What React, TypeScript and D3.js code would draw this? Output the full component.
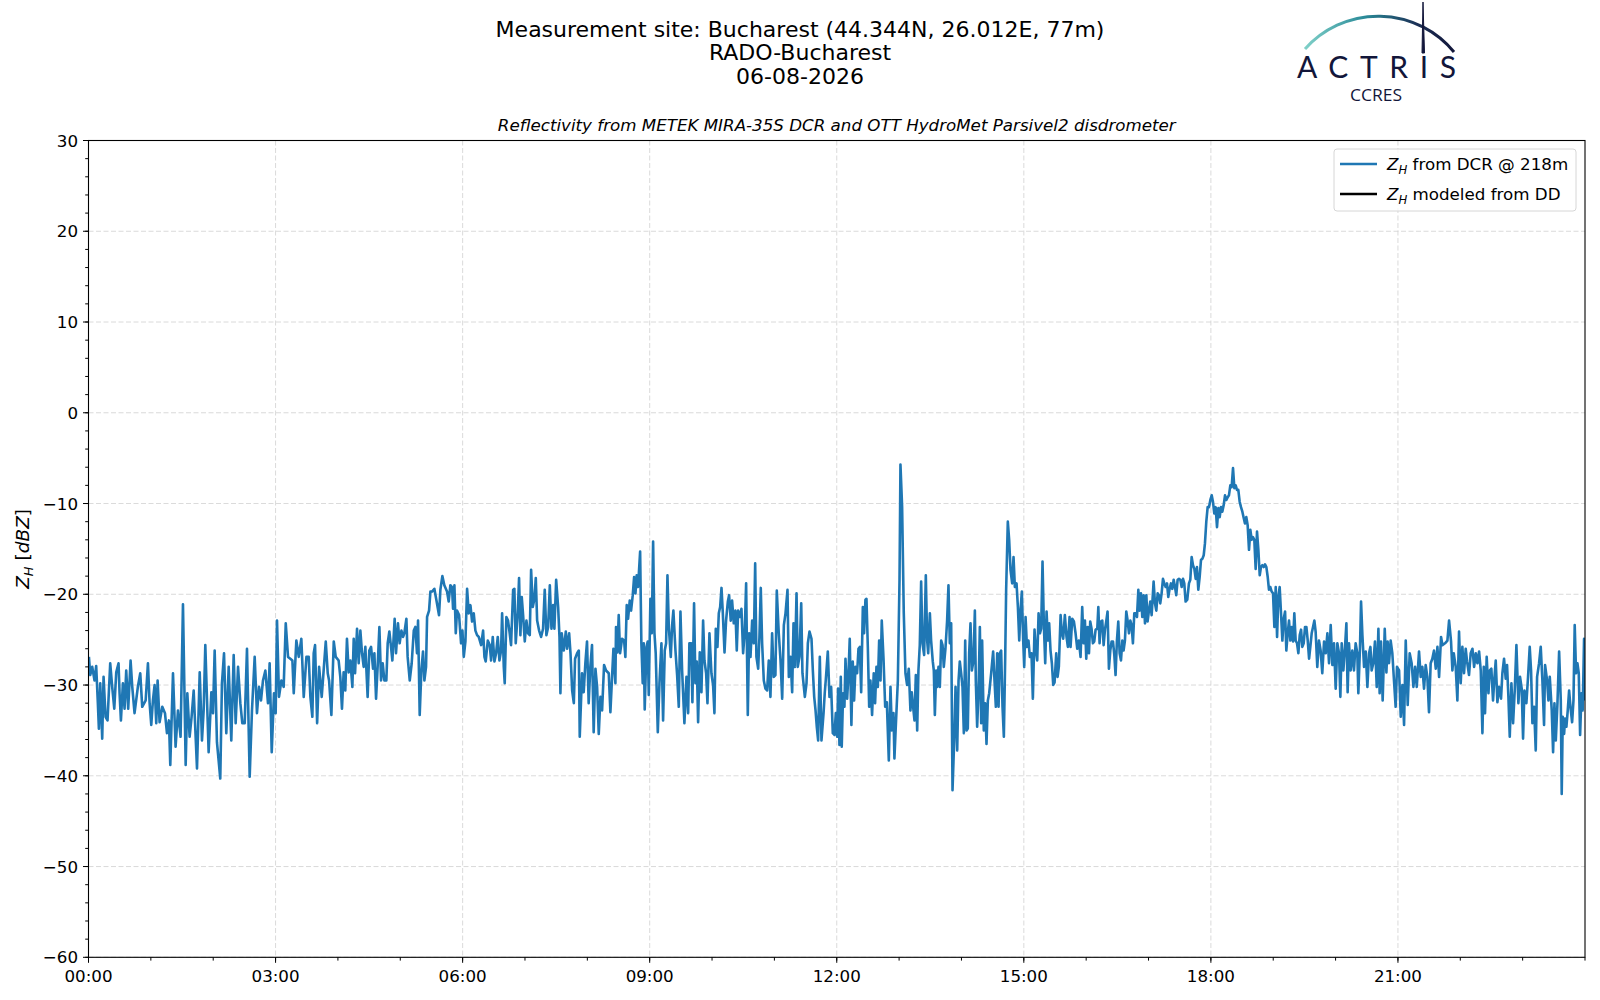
import { useMemo } from "react";
import * as d3 from "d3";

const W = 1600;
const H = 1000;
const M = { left: 88.5, right: 1585, top: 140.5, bottom: 957.3 };

const titleLines = [
  "Measurement site: Bucharest (44.344N, 26.012E, 77m)",
  "RADO-Bucharest",
  "06-08-2026",
];
const subtitle = "Reflectivity from METEK MIRA-35S DCR and OTT HydroMet Parsivel2 disdrometer";
const xTicks = [0, 180, 360, 540, 720, 900, 1080, 1260];
const xTickLabels = ["00:00", "03:00", "06:00", "09:00", "12:00", "15:00", "18:00", "21:00"];
const yTicks = [30, 20, 10, 0, -10, -20, -30, -40, -50, -60];

// Z_H from DCR @ 218m, [minute of day, dBZ]
const dcr0004: [number, number][] = [
  [0.4, -26.9], [1.7, -28.9], [3.6, -28.0], [5.8, -29.5], [7.4, -27.9], [9.0, -32.0], [10.0, -34.8],
  [11.3, -29.8], [13.2, -35.9], [14.5, -29.1], [16.4, -33.5], [18.3, -33.9], [20.9, -27.6], [22.8, -30.2],
  [24.8, -32.6], [26.7, -28.6], [28.9, -27.6], [29.9, -30.9], [31.2, -33.9], [33.1, -29.8], [34.7, -32.6],
  [36.3, -28.4], [38.2, -32.6], [40.5, -27.3], [42.1, -30.2], [44.3, -33.1], [47.5, -30.2], [49.8, -28.7],
  [51.7, -32.4], [55.0, -31.7], [57.2, -27.6], [58.8, -32.0], [60.4, -34.4], [62.0, -31.7], [63.6, -30.0],
  [65.2, -34.2], [66.5, -29.5], [68.4, -34.1], [71.0, -32.4], [73.6, -33.1], [75.5, -35.3], [77.4, -33.9],
  [78.7, -38.8], [81.3, -28.7], [83.8, -36.8], [86.1, -32.8], [88.6, -35.7], [90.9, -21.1], [93.5, -38.8],
  [95.1, -30.9], [97.3, -35.7], [99.2, -33.5], [101.2, -30.6], [104.4, -39.2], [107.0, -28.6], [109.2, -36.1],
  [110.8, -32.8], [112.4, -25.6], [115.6, -37.4], [118.2, -30.8], [119.8, -33.1], [121.4, -26.2], [123.6, -36.3],
  [125.6, -38.8], [126.8, -40.3], [128.4, -29.8], [130.4, -26.5], [132.6, -35.3], [134.9, -28.0], [137.4, -36.1],
  [139.7, -26.7], [141.6, -34.2], [143.9, -28.0], [146.1, -32.0], [148.0, -34.2], [150.3, -34.2], [152.5, -26.0],
  [155.1, -40.1], [157.3, -32.8], [159.9, -26.9], [162.1, -33.1], [164.1, -30.2], [166.0, -31.7], [167.9, -29.5],
  [170.2, -28.4], [172.7, -32.0], [174.3, -27.6], [176.3, -37.4], [178.5, -30.9], [180.1, -33.1], [181.4, -22.9],
  [183.3, -31.3], [185.6, -29.5], [187.8, -30.2], [189.8, -23.2], [192.0, -26.9], [194.2, -27.1], [196.2, -27.3],
  [197.5, -30.9], [200.0, -25.1], [202.3, -26.9], [204.8, -24.9], [207.1, -31.3], [209.7, -26.9], [211.9, -26.9],
  [213.5, -31.3], [215.4, -33.5], [216.7, -26.5], [218.0, -25.6], [220.0, -34.2], [221.9, -28.0], [224.4, -31.3],
  [226.4, -28.2], [228.3, -25.2], [230.2, -28.7], [231.5, -29.5], [233.7, -33.3], [236.0, -25.2], [237.9, -26.9],
];

const dcr0408: [number, number][] = [
  [240.7, -27.3], [242.3, -29.1], [243.9, -32.6], [245.5, -28.6], [247.1, -30.6], [248.7, -24.9], [250.4, -28.6],
  [252.0, -27.3], [253.9, -30.2], [255.2, -24.9], [256.5, -28.7], [258.4, -23.8], [260.0, -27.6], [261.6, -24.0],
  [263.2, -26.5], [264.8, -28.0], [266.4, -25.8], [268.6, -31.3], [270.2, -26.2], [271.9, -25.8], [273.8, -28.2],
  [275.1, -26.5], [276.7, -31.5], [278.3, -27.8], [279.9, -23.6], [281.5, -29.5], [283.1, -27.6], [284.7, -29.5],
  [286.6, -29.5], [287.9, -25.4], [289.5, -24.1], [291.1, -25.8], [292.4, -27.3], [294.6, -22.7], [295.9, -26.5],
  [297.8, -23.2], [299.4, -25.4], [301.1, -24.0], [302.7, -24.7], [303.9, -24.3], [305.9, -22.7], [307.1, -26.9],
  [309.1, -29.5], [311.0, -27.6], [313.0, -24.0], [314.5, -23.6], [316.1, -26.5], [317.1, -22.9], [318.7, -33.3],
  [320.3, -28.4], [321.9, -26.3], [323.2, -29.5], [324.8, -28.0], [325.8, -22.5], [327.7, -21.8], [329.0, -19.7],
  [330.6, -19.7], [332.8, -19.4], [334.7, -20.6], [337.3, -22.3], [338.6, -19.5], [340.5, -18.0], [342.4, -19.0],
  [345.0, -19.7], [346.6, -20.8], [348.2, -19.0], [349.8, -19.2], [350.8, -21.6], [352.1, -19.0], [353.4, -24.3],
  [354.6, -21.8], [356.6, -22.3], [358.5, -25.4], [359.8, -24.0], [361.1, -26.9], [362.7, -25.2], [364.3, -19.4],
  [365.9, -22.1], [367.5, -21.2], [369.1, -23.0], [370.7, -22.1], [372.3, -24.0], [373.9, -24.5], [375.5, -24.7],
  [377.8, -25.6], [379.7, -24.0], [381.0, -26.9], [382.2, -27.4], [384.2, -25.1], [386.1, -25.6], [387.4, -27.3],
  [389.0, -24.7], [390.6, -27.4], [392.2, -26.5], [393.8, -24.7], [395.4, -27.3], [397.0, -26.2], [398.0, -22.1],
  [399.6, -28.0], [400.5, -29.8], [402.1, -22.5], [403.7, -22.9], [405.3, -24.3], [406.6, -25.6], [408.6, -19.5],
  [409.8, -19.4], [411.1, -25.4], [413.1, -21.9], [414.3, -18.2], [415.6, -24.5], [416.9, -20.3], [418.2, -22.3],
  [419.8, -25.2], [421.4, -22.9], [423.0, -24.3], [424.6, -24.5], [425.9, -17.3], [427.5, -21.4], [429.1, -20.5],
  [430.4, -18.2], [431.7, -22.9], [433.6, -24.0], [435.5, -24.7], [437.4, -23.8], [439.0, -19.5], [440.6, -24.5],
  [442.3, -23.6], [443.9, -19.0], [445.5, -23.8], [447.1, -21.2], [448.3, -23.8], [450.0, -18.4], [451.9, -21.4],
  [453.2, -24.7], [454.1, -30.9], [455.4, -24.3], [457.3, -26.2], [459.3, -24.1], [460.5, -26.0], [462.5, -24.3],
  [463.8, -26.5], [465.4, -30.6], [467.0, -32.0], [468.2, -27.1], [470.2, -26.5], [471.8, -26.2], [472.7, -35.7],
];

const dcr0812: [number, number][] = [
  [474.9, -28.7], [476.5, -30.8], [478.1, -27.6], [479.7, -25.2], [481.3, -32.0], [482.9, -28.0], [484.5, -25.6],
  [486.1, -35.2], [487.8, -28.2], [489.4, -30.2], [491.0, -35.4], [492.6, -31.3], [494.2, -32.8], [496.1, -27.8],
  [498.0, -28.4], [500.6, -28.7], [502.2, -33.0], [503.8, -29.1], [505.1, -26.0], [507.0, -29.8], [507.6, -23.6],
  [508.9, -26.4], [510.2, -22.3], [511.5, -26.5], [513.4, -24.9], [515.4, -25.1], [516.6, -26.9], [517.9, -21.2],
  [519.2, -22.7], [520.8, -20.7], [522.1, -21.8], [523.7, -20.1], [525.0, -18.1], [526.3, -19.9], [527.5, -17.9],
  [528.8, -19.2], [530.8, -15.3], [532.0, -25.4], [533.3, -29.8], [534.3, -25.4], [535.2, -32.7], [536.9, -25.8],
  [538.1, -25.2], [539.1, -31.1], [540.7, -20.5], [542.0, -24.3], [543.3, -14.2], [544.6, -24.3], [545.8, -26.5],
  [547.8, -35.2], [549.4, -29.8], [551.3, -25.4], [552.9, -33.9], [554.5, -26.2], [555.8, -25.4], [557.1, -17.9],
  [558.4, -23.6], [560.3, -26.9], [561.6, -23.4], [562.8, -21.8], [564.8, -26.2], [566.4, -28.9], [568.0, -32.4],
  [569.6, -21.9], [571.2, -28.4], [573.4, -34.2], [575.4, -29.1], [577.0, -33.1], [578.2, -25.4], [579.9, -25.4],
  [581.1, -31.9], [582.7, -21.0], [584.0, -29.8], [585.3, -27.4], [586.6, -34.1], [588.2, -26.4], [589.8, -30.8],
  [591.4, -22.9], [592.7, -27.3], [594.3, -28.7], [595.6, -32.0], [597.5, -24.3], [599.4, -28.7], [601.0, -30.0],
  [602.3, -33.1], [603.6, -23.8], [605.2, -25.8], [606.5, -22.1], [607.8, -21.4], [609.1, -19.3], [610.3, -21.9],
  [612.0, -26.4], [613.5, -22.9], [615.2, -20.8], [616.4, -20.1], [618.0, -22.9], [619.3, -20.7], [620.9, -23.2],
  [622.5, -21.8], [623.8, -26.2], [625.1, -21.8], [626.7, -22.5], [628.3, -21.6], [629.9, -26.5], [631.5, -24.0],
  [632.8, -18.8], [634.4, -33.3], [635.7, -24.3], [637.0, -26.9], [638.6, -22.9], [640.2, -25.4], [641.5, -16.6],
  [642.7, -26.9], [644.4, -28.2], [645.6, -24.7], [646.9, -19.3], [648.2, -25.4], [649.8, -29.5], [651.4, -30.4],
  [653.0, -30.6], [654.6, -27.3], [656.2, -31.3], [657.8, -24.3], [659.4, -29.1], [661.0, -28.9], [662.3, -19.6],
  [664.2, -24.3], [665.9, -27.3], [667.5, -31.5], [669.1, -23.4], [670.7, -22.1], [672.6, -19.5], [673.9, -29.1],
  [675.5, -26.9], [677.1, -30.8], [678.4, -23.2], [679.7, -28.0], [681.3, -19.9], [682.5, -28.0], [684.1, -26.9],
  [685.8, -21.0], [687.0, -28.7], [689.3, -31.3], [690.9, -29.8], [692.2, -25.4], [693.8, -24.1], [695.7, -24.9],
  [697.0, -28.4], [698.3, -31.3], [699.6, -32.8], [700.8, -34.6], [702.1, -36.1], [703.7, -26.9], [705.3, -36.1],
  [707.3, -33.1], [708.5, -30.8],
];

const dcr1216: [number, number][] = [
  [709.4, -29.5], [711.4, -26.3], [713.0, -31.3], [714.6, -30.2], [716.2, -35.3], [717.8, -35.5], [719.1, -33.1],
  [720.4, -35.7], [721.3, -30.4], [722.6, -36.6], [723.9, -29.1], [724.8, -36.8], [726.1, -30.9], [727.4, -32.4],
  [728.4, -27.1], [730.0, -31.5], [731.3, -28.7], [732.5, -24.9], [734.1, -34.4], [735.4, -27.4], [736.7, -31.7],
  [738.0, -28.0], [739.6, -28.7], [740.9, -26.0], [742.2, -25.8], [743.5, -30.8], [745.1, -21.4], [746.3, -24.3],
  [747.6, -20.6], [748.6, -20.5], [749.9, -25.8], [751.2, -32.4], [752.4, -29.5], [754.0, -33.3], [755.6, -28.7],
  [756.9, -32.0], [758.2, -28.0], [759.5, -30.2], [760.8, -25.1], [762.1, -29.5], [763.3, -22.9], [765.0, -27.1],
  [766.6, -32.4], [768.2, -31.9], [770.1, -38.3], [771.7, -30.2], [773.0, -35.0], [774.6, -33.1], [775.5, -38.1],
  [776.8, -34.6], [778.8, -29.5], [780.4, -18.4], [781.3, -5.7], [782.9, -10.4], [784.5, -22.1], [786.1, -28.7],
  [787.7, -30.0], [789.3, -28.2], [790.9, -32.8], [792.2, -30.8], [793.5, -32.4], [794.8, -33.9], [796.1, -28.9],
  [797.4, -35.0], [798.6, -28.4], [799.9, -25.6], [801.2, -18.6], [802.5, -25.4], [804.1, -26.7], [805.7, -17.9],
  [807.0, -25.1], [808.0, -26.5], [809.6, -22.1], [810.8, -25.1], [812.4, -27.4], [813.4, -28.4], [814.4, -33.3],
  [815.7, -28.4], [816.6, -30.2], [817.9, -28.0], [819.2, -30.2], [820.5, -25.1], [821.8, -25.6], [823.0, -28.0],
  [824.6, -26.0], [826.2, -22.9], [827.5, -19.0], [828.8, -25.4], [830.1, -23.2], [831.4, -41.6], [833.0, -36.1],
  [834.3, -30.2], [835.9, -37.2], [837.2, -29.5], [838.4, -27.4], [839.7, -28.7], [841.0, -30.2], [842.3, -35.3],
  [843.6, -25.1], [844.9, -35.0], [846.1, -34.8], [847.4, -26.5], [848.7, -23.2], [850.0, -28.4], [851.6, -27.3],
  [852.9, -21.8], [853.8, -29.5], [855.1, -34.6], [856.4, -30.8], [857.7, -23.6], [859.0, -34.2], [859.9, -25.1],
  [861.5, -35.0], [862.8, -32.0], [864.1, -36.5], [865.4, -31.7], [866.7, -30.9], [868.6, -28.7], [870.5, -26.3],
  [871.8, -29.5], [873.1, -32.4], [874.4, -26.5], [875.7, -32.4], [876.9, -26.5], [878.2, -26.2], [879.5, -32.4],
  [880.8, -35.7], [882.1, -26.9], [883.0, -19.5], [884.6, -12.0], [885.9, -14.0], [887.2, -17.3], [888.8, -18.8],
  [890.1, -15.9], [891.4, -19.2], [893.0, -18.8], [894.3, -21.4], [895.6, -25.1], [896.8, -21.8], [898.1, -19.7],
  [899.4, -25.1], [900.4, -28.0], [901.7, -22.5], [903.0, -25.8], [904.5, -25.1], [905.8, -26.9], [907.4, -26.5],
  [908.7, -31.5], [910.3, -23.9], [911.6, -26.2], [912.9, -27.3], [914.2, -22.1], [915.5, -24.3], [916.7, -23.8],
  [918.0, -16.4], [919.3, -23.4], [920.6, -27.6], [921.9, -21.9], [923.2, -25.1], [924.4, -23.2], [925.7, -26.2],
  [927.0, -27.6], [928.3, -30.0], [929.6, -29.7], [931.2, -26.5], [932.5, -29.1], [933.7, -28.0], [935.4, -22.3],
  [936.6, -24.3], [937.9, -24.9], [939.5, -22.3], [941.1, -24.7], [942.4, -25.8], [944.0, -22.5],
];

const dcr1620: [number, number][] = [
  [945.0, -25.8], [946.6, -22.7], [948.2, -23.0], [949.8, -24.3], [951.4, -26.0], [953.0, -25.1], [954.6, -26.9],
  [956.2, -21.4], [957.5, -25.4], [958.8, -22.9], [960.1, -27.1], [961.4, -23.6], [962.7, -26.5], [963.9, -23.0],
  [965.2, -23.8], [966.5, -25.4], [967.8, -25.2], [969.1, -23.9], [970.7, -23.8], [971.7, -21.4], [972.9, -25.4],
  [974.2, -23.0], [975.5, -22.9], [976.8, -25.6], [978.1, -23.9], [979.4, -22.9], [980.6, -21.9], [981.9, -28.2],
  [983.2, -26.2], [984.5, -25.2], [985.8, -25.2], [987.1, -26.7], [988.3, -28.9], [989.6, -25.1], [990.9, -23.0],
  [992.2, -26.5], [993.5, -27.3], [994.8, -25.1], [996.0, -26.2], [997.3, -25.1], [998.6, -21.9], [999.9, -22.9],
  [1001.2, -24.3], [1002.5, -22.9], [1003.7, -23.4], [1005.0, -25.4], [1006.3, -22.1], [1007.6, -22.1], [1008.9, -22.5],
  [1010.2, -19.5], [1011.4, -21.8], [1012.7, -19.9], [1014.0, -22.5], [1015.3, -20.1], [1016.6, -23.2], [1017.9, -20.1],
  [1019.1, -23.0], [1020.4, -21.8], [1021.7, -20.8], [1023.0, -22.3], [1024.9, -18.6], [1026.2, -21.0], [1027.5, -21.8],
  [1028.8, -19.9], [1030.1, -20.1], [1031.3, -21.0], [1032.6, -19.9], [1033.9, -18.3], [1035.2, -18.8], [1036.5, -19.2],
  [1037.8, -18.8], [1039.0, -20.3], [1040.3, -19.4], [1041.6, -18.8], [1042.9, -19.4], [1044.2, -18.4], [1045.5, -19.2],
  [1046.7, -20.1], [1048.0, -18.4], [1049.3, -18.3], [1050.6, -18.4], [1051.9, -19.2], [1053.2, -18.3], [1054.4, -18.8],
  [1055.7, -20.8], [1057.3, -20.6], [1058.9, -18.8], [1060.2, -18.4], [1061.5, -15.9], [1062.8, -16.8], [1064.1, -17.2],
  [1065.4, -18.3], [1066.6, -17.0], [1067.9, -19.5], [1069.2, -18.1], [1070.5, -16.2], [1071.8, -16.1], [1073.1, -15.7],
  [1074.3, -14.4], [1075.6, -12.0], [1076.9, -10.4], [1078.2, -10.4], [1079.5, -9.6], [1080.8, -9.1], [1082.0, -9.8],
  [1083.3, -11.1], [1084.6, -10.4], [1085.9, -12.6], [1087.2, -10.5], [1088.5, -11.5], [1089.7, -10.4], [1091.0, -10.9],
  [1092.3, -10.2], [1093.6, -9.1], [1094.9, -9.6], [1096.2, -9.3], [1097.4, -9.1], [1098.7, -8.0], [1100.0, -8.2],
  [1101.3, -6.1], [1102.6, -8.3], [1103.9, -8.0], [1105.1, -8.5], [1106.4, -8.5], [1107.7, -9.8], [1109.0, -10.4],
  [1110.3, -10.9], [1111.6, -11.6], [1112.8, -12.2], [1114.1, -11.5], [1115.4, -12.4], [1116.7, -15.1], [1118.0, -12.9],
  [1119.3, -14.0], [1120.5, -13.7], [1121.8, -14.0], [1123.1, -17.2], [1124.4, -13.1], [1125.7, -15.1], [1127.0, -17.9],
  [1128.2, -17.0], [1129.5, -16.8], [1130.8, -17.0], [1132.1, -16.7], [1133.4, -17.0], [1134.7, -18.1], [1135.9, -19.5],
  [1137.2, -19.2], [1138.5, -19.7], [1139.8, -19.9], [1141.1, -23.6], [1142.4, -19.2], [1143.7, -24.7], [1144.9, -20.3],
  [1146.2, -19.2], [1147.5, -22.1], [1148.8, -25.1], [1150.1, -22.7], [1151.4, -21.9], [1152.6, -26.2], [1153.9, -24.3],
  [1155.2, -22.9], [1156.5, -25.1], [1157.8, -23.6], [1159.1, -25.2], [1160.3, -22.1], [1161.6, -25.1], [1162.9, -25.4],
  [1164.2, -26.5], [1165.5, -24.5], [1166.8, -23.9], [1168.0, -25.8], [1169.3, -25.4], [1170.6, -23.6], [1171.9, -23.6],
  [1173.2, -25.1], [1174.5, -27.1], [1175.7, -25.8], [1177.0, -24.3], [1178.3, -23.6], [1179.6, -22.9],
];

const dcr2024: [number, number][] = [
  [1180.8, -24.1], [1182.4, -28.0], [1184.0, -25.1], [1185.6, -26.2], [1187.2, -28.7], [1188.9, -25.2], [1190.5, -26.5],
  [1192.1, -24.3], [1193.7, -27.6], [1195.3, -23.4], [1196.9, -27.8], [1198.5, -25.4], [1200.1, -30.4], [1201.7, -25.4],
  [1203.3, -26.5], [1204.6, -31.3], [1205.9, -25.4], [1207.5, -28.4], [1209.1, -25.8], [1210.4, -23.2], [1211.6, -30.8],
  [1212.9, -25.4], [1214.5, -28.4], [1216.1, -26.2], [1217.7, -28.4], [1219.3, -25.4], [1220.9, -26.5], [1221.9, -30.9],
  [1223.5, -25.8], [1224.5, -20.8], [1225.8, -24.5], [1227.4, -28.0], [1229.0, -26.3], [1230.6, -30.2], [1232.2, -26.5],
  [1233.5, -25.8], [1234.7, -28.4], [1236.3, -27.6], [1237.9, -25.2], [1239.6, -30.2], [1241.2, -23.8], [1242.4, -30.9],
  [1243.7, -25.2], [1245.3, -31.7], [1247.3, -23.8], [1248.9, -28.6], [1250.1, -25.2], [1251.4, -27.6], [1253.0, -25.1],
  [1254.6, -26.5], [1256.2, -29.5], [1257.8, -32.4], [1259.1, -28.0], [1261.1, -28.4], [1262.7, -33.5], [1264.3, -30.0],
  [1265.9, -34.4], [1267.5, -25.1], [1269.4, -32.2], [1271.3, -26.5], [1273.2, -27.6], [1274.9, -30.2], [1276.5, -28.0],
  [1278.1, -30.2], [1280.3, -26.3], [1281.9, -29.1], [1283.5, -28.0], [1285.1, -30.4], [1286.7, -27.8], [1288.3, -29.1],
  [1289.9, -33.0], [1291.5, -27.6], [1293.1, -27.1], [1294.7, -26.2], [1296.4, -28.2], [1298.0, -25.8], [1299.6, -29.1],
  [1301.5, -24.7], [1302.8, -25.6], [1305.3, -25.4], [1307.6, -25.1], [1309.2, -22.9], [1311.1, -25.2], [1312.4, -28.4],
  [1313.7, -26.5], [1315.6, -28.0], [1317.2, -31.7], [1318.8, -24.1], [1320.4, -29.8], [1322.0, -25.8], [1323.6, -28.7],
  [1325.2, -26.0], [1326.5, -27.4], [1328.4, -28.9], [1330.0, -26.5], [1331.7, -26.0], [1333.3, -28.0], [1334.9, -26.5],
  [1336.5, -27.6], [1338.1, -26.3], [1339.7, -28.4], [1341.3, -35.3], [1342.6, -28.0], [1343.8, -33.1], [1345.4, -26.9],
  [1347.1, -30.9], [1348.3, -28.4], [1349.9, -28.2], [1351.5, -31.7], [1352.8, -29.3], [1354.1, -27.3], [1355.7, -31.9],
  [1357.3, -30.2], [1359.2, -31.5], [1360.5, -28.7], [1362.1, -27.1], [1363.7, -29.3], [1365.0, -27.8], [1366.3, -31.3],
  [1367.6, -35.7], [1369.2, -29.8], [1370.8, -34.2], [1372.4, -30.6], [1374.0, -25.6], [1375.9, -32.0], [1377.5, -29.1],
  [1379.1, -30.4], [1380.4, -35.9], [1381.7, -30.6], [1383.6, -32.0], [1385.2, -29.1], [1386.8, -25.8], [1388.1, -28.4],
  [1389.4, -34.2], [1391.0, -32.4], [1392.6, -37.2], [1393.9, -29.1], [1395.8, -27.6], [1397.4, -25.8], [1399.0, -29.5],
  [1400.6, -34.4], [1401.6, -27.8], [1403.5, -29.5], [1404.8, -31.7], [1406.1, -29.1], [1408.0, -32.8], [1409.3, -37.4],
  [1410.6, -32.0], [1411.9, -36.1], [1413.5, -32.0], [1415.1, -26.3], [1416.7, -31.7], [1417.6, -42.0], [1418.6, -33.5],
  [1419.9, -35.4], [1420.8, -33.7], [1422.1, -34.6], [1423.4, -32.8], [1424.7, -30.6], [1426.0, -32.4], [1427.6, -34.1],
  [1428.9, -31.7], [1430.1, -23.4], [1431.4, -28.7], [1432.7, -27.6], [1434.0, -28.7], [1435.3, -35.5], [1436.6, -30.9],
  [1437.8, -32.8], [1439.1, -24.9], [1440.1, -31.7],
];

const dcrSeries = [...dcr0004, ...dcr0408, ...dcr0812, ...dcr1216, ...dcr1620, ...dcr2024];

const FONT = "'DejaVu Sans', sans-serif";
const BLUE = "#1f77b4";
const NAVY = "#12163a";

function ZH({ size }: { size: number }) {
  return (
    <>
      <tspan fontStyle="italic">Z</tspan>
      <tspan fontStyle="italic" fontSize={size * 0.7} dy={size * 0.22}>H</tspan>
      <tspan dy={-size * 0.22}> </tspan>
    </>
  );
}

export default function App() {
  const x = useMemo(() => d3.scaleLinear().domain([0, 1440]).range([M.left, M.right]), []);
  const y = useMemo(() => d3.scaleLinear().domain([-60, 30]).range([M.bottom, M.top]), []);
  const linePath = useMemo(
    () =>
      d3
        .line<[number, number]>()
        .x((d) => x(d[0]))
        .y((d) => y(d[1]))(dcrSeries) ?? "",
    [x, y]
  );
  const xMinor = d3.range(0, 1441, 60);
  const yMinor = d3.range(-60, 31, 2);
  const lg = { x: 1334, y: 149, w: 242, h: 62 };

  return (
    <div style={{ position: "fixed", left: 0, top: 0, background: "#fff" }}>
      <svg width={W} height={H} viewBox={`0 0 ${W} ${H}`} fontFamily={FONT}>
        <rect width={W} height={H} fill="#fff" />
        <defs>
          <clipPath id="plot">
            <rect x={M.left} y={M.top} width={M.right - M.left} height={M.bottom - M.top} />
          </clipPath>
          <linearGradient id="arcGrad" x1="1305" y1="0" x2="1455" y2="0" gradientUnits="userSpaceOnUse">
            <stop offset="0" stopColor="#7fd0c8" />
            <stop offset="0.4" stopColor="#2a8a98" />
            <stop offset="0.75" stopColor="#1b2f55" />
            <stop offset="1" stopColor={NAVY} />
          </linearGradient>
        </defs>

        {/* titles */}
        {titleLines.map((t, i) => (
          <text key={t} x={800} y={36.5 + i * 23.5} textAnchor="middle" fontSize={22} fill="#000">
            {t}
          </text>
        ))}
        <text x={(M.left + M.right) / 2} y={131} textAnchor="middle" fontSize={16.7} fontStyle="italic">
          {subtitle}
        </text>

        {/* logo */}
        <path d="M1305,49 A98,98 0 0 1 1454,52" fill="none" stroke="url(#arcGrad)" strokeWidth={3} />
        <path d="M1423,2 L1424.5,53 L1422,53 Z" fill={NAVY} stroke={NAVY} strokeWidth={1} />
        <text x={1297} y={77.5} fontFamily="Lato, 'Open Sans', sans-serif" fontSize={30} fill={NAVY} textLength={159} lengthAdjust="spacing">
          ACTRIS
        </text>
        <text x={1376} y={100.5} textAnchor="middle" fontFamily="'Open Sans', Lato, sans-serif" fontSize={16} fill={NAVY} textLength={52} lengthAdjust="spacingAndGlyphs">
          CCRES
        </text>

        {/* grid */}
        <g stroke="#d0d0d0" strokeWidth={0.8} strokeDasharray="5,2.5">
          {xTicks.map((t) => (
            <line key={`gx${t}`} x1={x(t)} x2={x(t)} y1={M.top} y2={M.bottom} />
          ))}
          {yTicks.map((t) => (
            <line key={`gy${t}`} x1={M.left} x2={M.right} y1={y(t)} y2={y(t)} />
          ))}
        </g>

        {/* data */}
        <path
          d={linePath}
          fill="none"
          stroke={BLUE}
          strokeWidth={2.6}
          strokeLinejoin="round"
          clipPath="url(#plot)"
        />

        {/* spines */}
        <rect
          x={M.left}
          y={M.top}
          width={M.right - M.left}
          height={M.bottom - M.top}
          fill="none"
          stroke="#000"
          strokeWidth={1.1}
        />

        {/* ticks */}
        <g stroke="#000" strokeWidth={1}>
          {xMinor.map((t) => (
            <line key={`mx${t}`} x1={x(t)} x2={x(t)} y1={M.bottom} y2={M.bottom + 3.3} />
          ))}
          {xTicks.map((t) => (
            <line key={`tx${t}`} x1={x(t)} x2={x(t)} y1={M.bottom} y2={M.bottom + 5.5} />
          ))}
          {yMinor.map((t) => (
            <line key={`my${t}`} x1={M.left - 3.3} x2={M.left} y1={y(t)} y2={y(t)} />
          ))}
          {yTicks.map((t) => (
            <line key={`ty${t}`} x1={M.left - 5.5} x2={M.left} y1={y(t)} y2={y(t)} />
          ))}
        </g>
        {xTicks.map((t, i) => (
          <text key={`lx${t}`} x={x(t)} y={981.5} textAnchor="middle" fontSize={16.7}>
            {xTickLabels[i]}
          </text>
        ))}
        {yTicks.map((t) => (
          <text key={`ly${t}`} x={78} y={y(t) + 6} textAnchor="end" fontSize={16.7}>
            {t < 0 ? `\u2212${Math.abs(t)}` : `${t}`}
          </text>
        ))}

        {/* y label */}
        <text
          transform={`translate(29,${(M.top + M.bottom) / 2}) rotate(-90)`}
          textAnchor="middle"
          fontSize={18.5}
        >
          <ZH size={18.5} />
          <tspan>[</tspan>
          <tspan fontStyle="italic">dBZ</tspan>
          <tspan>]</tspan>
        </text>

        {/* legend */}
        <rect x={lg.x} y={lg.y} width={lg.w} height={lg.h} rx={3} fill="#fff" fillOpacity={0.8} stroke="#d6d6d6" strokeWidth={1} />
        <line x1={lg.x + 6} x2={lg.x + 43} y1={lg.y + 15} y2={lg.y + 15} stroke={BLUE} strokeWidth={2.6} />
        <line x1={lg.x + 6} x2={lg.x + 43} y1={lg.y + 45} y2={lg.y + 45} stroke="#000" strokeWidth={2.6} />
        <text x={lg.x + 53} y={lg.y + 21} fontSize={16.7}>
          <ZH size={16.7} />
          <tspan>from DCR @ 218m</tspan>
        </text>
        <text x={lg.x + 53} y={lg.y + 51} fontSize={16.7}>
          <ZH size={16.7} />
          <tspan>modeled from DD</tspan>
        </text>
      </svg>
    </div>
  );
}
